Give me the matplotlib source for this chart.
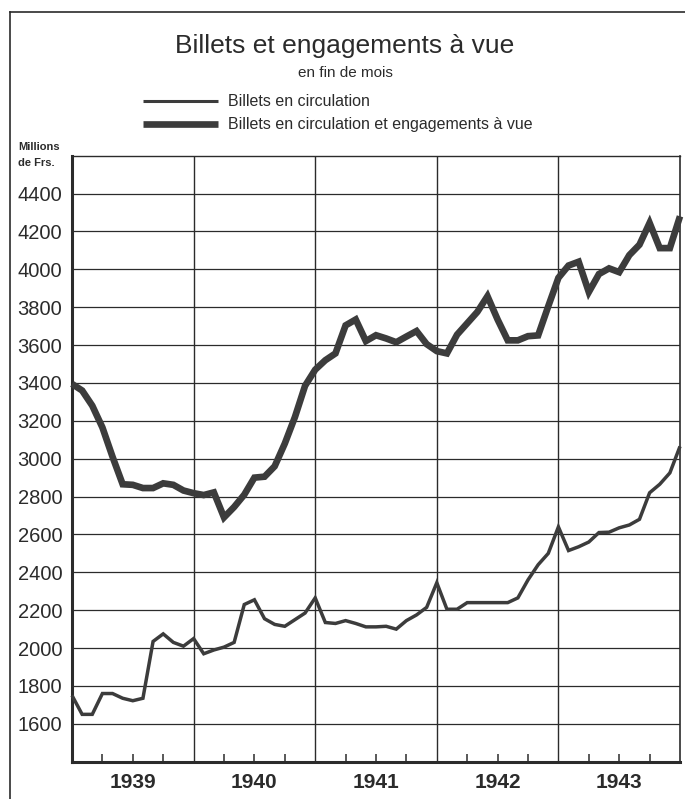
"""Billets et engagements à vue, 1939-1943 (fin de mois), redrawn from the scan."""
import numpy as np
import matplotlib
matplotlib.use("Agg")
import matplotlib.pyplot as plt
from matplotlib.lines import Line2D

# month-end values, Dec 1938 .. Dec 1943, millions de Frs.
years = [1939, 1940, 1941, 1942, 1943]
billets = [
    1750, 1650, 1650, 1760, 1760, 1735, 1722, 1735, 2035, 2075, 2030, 2010,
    2050, 1970, 1990, 2005, 2030, 2230, 2255, 2155, 2125, 2115, 2150, 2185,
    2265, 2135, 2130, 2145, 2130, 2112, 2112, 2115, 2100, 2145, 2175, 2215,
    2345, 2205, 2205, 2240, 2240, 2240, 2240, 2240, 2265, 2360, 2440, 2500,
    2640, 2515, 2535, 2560, 2610, 2612, 2635, 2650, 2680, 2820, 2865, 2925,
    3065,
]
billets_engagements = [
    3395, 3360, 3280, 3165, 3010, 2865, 2862, 2845, 2845, 2870, 2862, 2832,
    2818, 2808, 2822, 2690, 2745, 2810, 2900, 2905, 2960, 3080, 3220, 3385,
    3470, 3520, 3556, 3704, 3735, 3621, 3652, 3635, 3615, 3645, 3674, 3605,
    3568, 3556, 3655, 3715, 3775, 3858, 3735, 3625, 3625, 3647, 3651, 3805,
    3955, 4020, 4040, 3880, 3975, 4005, 3985, 4075, 4130, 4245, 4112, 4112,
    4280,
]
y_ticks = list(range(1600, 4401, 200))

INK = "#2b2b2b"
LINE = "#3c3c3c"
FONT = ["Liberation Sans", "DejaVu Sans"]
plt.rcParams.update({"font.family": FONT, "text.color": INK,
                     "axes.edgecolor": INK, "xtick.color": INK,
                     "ytick.color": INK})

fig = plt.figure(figsize=(6.85, 7.99), dpi=100)
ax = fig.add_axes([72 / 685, 1 - 761.7 / 799, 608 / 685, 606 / 799])

x = np.arange(len(billets))
ax.plot(x, billets_engagements, color=LINE, lw=4.8, solid_joinstyle="miter",
        solid_capstyle="butt", zorder=3, clip_on=False)
ax.plot(x, billets, color=LINE, lw=2.5, solid_joinstyle="miter",
        solid_capstyle="butt", zorder=4, clip_on=False)

n_months = len(billets) - 1
ax.set_xlim(0, n_months)
ax.set_ylim(1400, 4600)

# grid: every 200 on y, year boundaries on x
for v in y_ticks:
    ax.axhline(v, color=INK, lw=0.9, zorder=1)
for k in range(1, len(years)):
    ax.axvline(12 * k, color=INK, lw=1.0, zorder=1)

ax.set_yticks(y_ticks)
ax.set_yticklabels([str(v) for v in y_ticks], fontsize=14.5)
ax.tick_params(axis="y", length=0, pad=7)

# quarter ticks inside the bottom axis, year names under mid-year
quarters = [q for q in range(3, n_months, 3) if q % 12]
ax.set_xticks(quarters)
ax.set_xticklabels([str(years[q // 12]) if q % 12 == 6 else "" for q in quarters],
                   fontsize=15, fontweight="bold")
ax.tick_params(axis="x", direction="in", length=6, width=1.1, pad=8)

for side, w in (("left", 2.2), ("bottom", 2.2), ("top", 1.0), ("right", 1.2)):
    ax.spines[side].set_linewidth(w)

# outer frame of the plate
fig.add_artist(Line2D([10 / 685, 10 / 685], [0, 1 - 12 / 799], color=INK, lw=1.2))
fig.add_artist(Line2D([10 / 685, 1], [1 - 12 / 799, 1 - 12 / 799], color=INK, lw=1.2))

fig.text(345 / 685, 1 - 46 / 799, "Billets et engagements à vue",
         ha="center", va="center", fontsize=19)
fig.text(345 / 685, 1 - 73 / 799, "en fin de mois",
         ha="center", va="center", fontsize=11)

# legend, as drawn on the plate
for yy, lw, label in ((101, 2.2, "Billets en circulation"),
                      (124, 4.8, "Billets en circulation et engagements à vue")):
    fig.add_artist(Line2D([143 / 685, 218 / 685], [1 - yy / 799] * 2,
                          color=LINE, lw=lw, solid_capstyle="butt"))
    fig.text(228 / 685, 1 - yy / 799, label, ha="left", va="center",
             fontsize=11.5)

fig.text(18 / 685, 1 - 147 / 799, "Millions", ha="left", va="center",
         fontsize=8, fontweight="bold")
fig.text(18 / 685, 1 - 163 / 799, "de Frs.", ha="left", va="center",
         fontsize=8, fontweight="bold")

fig.savefig("out.png", dpi=100, facecolor="white")
